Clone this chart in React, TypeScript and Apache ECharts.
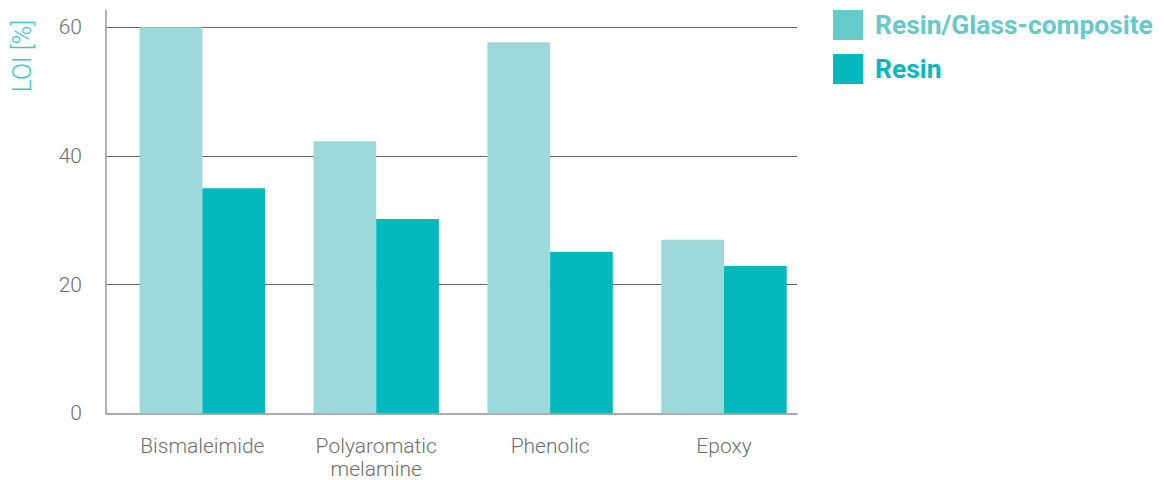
import React, { useEffect, useRef } from "react";
import * as echarts from "echarts";

const categories = ["Bismaleimide", "Polyaromatic\nmelamine", "Phenolic", "Epoxy"];
const seriesNames = ["Resin/Glass-composite", "Resin"];
const compositeValues = [60, 42.3, 57.7, 27.0];
const resinValues = [35.0, 30.2, 25.1, 22.9];
const yMin = 0;
const yMax = 62.7;
const yInterval = 20;

const FONT = "Roboto";

export default function App() {
  const ref = useRef<HTMLDivElement>(null);
  useEffect(() => {
    if (!ref.current) return;
    const chart = echarts.init(ref.current, undefined, { renderer: "svg" });
    const top = 10;
    const bottom = 66.7;
    chart.setOption({
      animation: false,
      backgroundColor: "#ffffff",
      grid: [
        { left: 106, width: 691, top, bottom, outerBoundsMode: "none", containLabel: false },
        { left: 115.35, width: 695.6, top, bottom, outerBoundsMode: "none", containLabel: false },
      ],
      xAxis: [
        {
          gridIndex: 0,
          type: "category",
          data: categories,
          axisLine: { show: true, lineStyle: { color: "#8f8f8f", width: 1.5 } },
          axisTick: { show: false },
          axisLabel: { show: false },
          splitLine: { show: false },
        },
        {
          gridIndex: 1,
          type: "category",
          data: categories,
          axisLine: { show: false },
          axisTick: { show: false },
          axisLabel: {
            show: true,
            color: "#6e6e6e",
            fontFamily: FONT,
            fontWeight: 300,
            fontSize: 21,
            lineHeight: 23,
            margin: 21,
          },
        },
      ],
      yAxis: [
        {
          gridIndex: 0,
          type: "value",
          min: yMin,
          max: yMax,
          interval: yInterval,
          axisLine: { show: true, lineStyle: { color: "#9a9a9a", width: 1.5 } },
          axisTick: { show: false },
          axisLabel: {
            color: "#6e6e6e",
            fontFamily: FONT,
            fontWeight: 300,
            fontSize: 21,
            margin: 24,
            showMaxLabel: false,
          },
          splitLine: {
            show: true,
            showMinLine: false,
            showMaxLine: false,
            lineStyle: { color: "#666666", width: 1 },
          },
        },
        {
          gridIndex: 1,
          type: "value",
          min: yMin,
          max: yMax,
          interval: yInterval,
          show: false,
          splitLine: { show: false },
        },
      ],
      legend: {
        orient: "vertical",
        left: 833,
        top: 10,
        padding: 0,
        itemWidth: 30,
        itemHeight: 30,
        itemGap: 14,
        icon: "rect",
        textStyle: {
          fontFamily: FONT,
          fontWeight: "bold",
          fontSize: 26.4,
          padding: [0, 0, 0, 7],
        },
        data: [
          { name: seriesNames[0], itemStyle: { color: "#66c9ca" }, textStyle: { color: "#66c9ca" } },
          { name: seriesNames[1], itemStyle: { color: "#04b8be" }, textStyle: { color: "#04b8be" } },
        ],
      },
      graphic: [
        {
          type: "text",
          x: 22,
          y: 56,
          rotation: Math.PI / 2,
          style: {
            text: "LOI [%]",
            fontFamily: FONT,
            fontWeight: 300,
            fontSize: 25,
            fill: "#3cc6cb",
            align: "center",
            verticalAlign: "middle",
          },
        },
      ],
      series: [
        {
          name: seriesNames[0],
          type: "bar",
          xAxisIndex: 1,
          yAxisIndex: 1,
          data: compositeValues,
          barWidth: 62.7,
          barGap: "0%",
          itemStyle: { color: "#9dd8db" },
        },
        {
          name: seriesNames[1],
          type: "bar",
          xAxisIndex: 1,
          yAxisIndex: 1,
          data: resinValues,
          barWidth: 62.7,
          barGap: "0%",
          itemStyle: { color: "#04b8be" },
        },
      ],
    });
    return () => chart.dispose();
  }, []);
  return (
    <div
      ref={ref}
      style={{ position: "fixed", left: 0, top: 0, width: 1164, height: 480 }}
    />
  );
}
